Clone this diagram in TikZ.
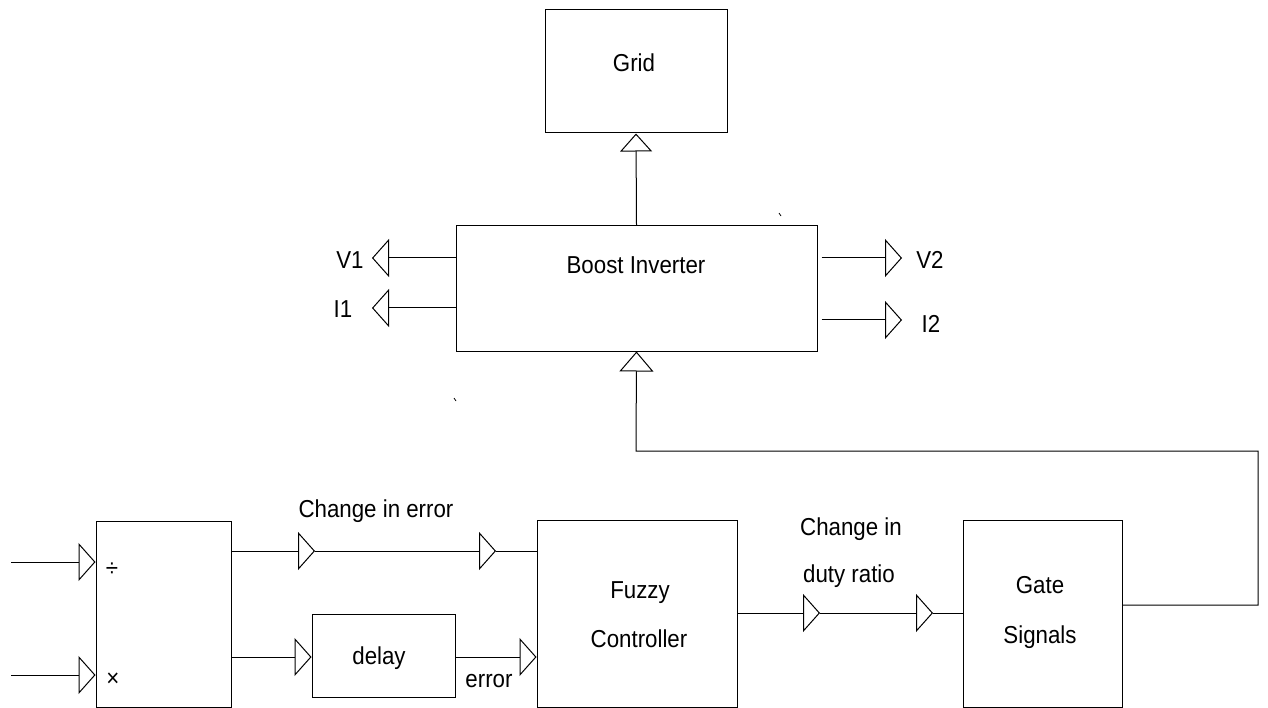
\documentclass[tikz,border=0pt]{standalone}
\usepackage{fontspec}
\setmainfont{Liberation Sans}[FakeStretch=0.91]
\usetikzlibrary{arrows.meta}
\begin{document}
\begin{tikzpicture}[x=1pt,y=-1pt,line width=1pt,
  box/.style={draw,line width=1pt,inner sep=0pt},
  lbl/.style={font=\fontsize{24.5}{28}\selectfont,inner sep=0pt,anchor=base},
  oarrow/.style={-{Triangle[open,length=17pt,width=38pt]}},
  uparrow/.style={-{Triangle[open,length=18pt,width=32pt]}}]
\useasboundingbox (0,0) rectangle (1268,708);
% boxes
\node[box,minimum width=182pt,minimum height=123pt] (grid) at (636,71.5) {};
\node[box,minimum width=361pt,minimum height=125pt] (boost) at (636.5,288.5) {};
\node[box,minimum width=135pt,minimum height=186pt] (div) at (163.5,614) {};
\node[box,minimum width=143pt,minimum height=83pt] (delay) at (383.5,655.5) {};
\node[box,minimum width=200pt,minimum height=187pt] (fuzzy) at (637,613.5) {};
\node[box,minimum width=159pt,minimum height=187pt] (gate) at (1042.5,613.5) {};
% texts (positioned at baseline)
\node[lbl] (tgrid) at (634,72) {Grid};
\node[lbl] (tboost) at (636,274) {Boost Inverter};
\node[lbl] (tdelay) at (379,664) {delay};
\node[lbl] (tfz1) at (640,598) {Fuzzy};
\node[lbl] (tfz2) at (639,647) {Controller};
\node[lbl] (tgt1) at (1040,593) {Gate};
\node[lbl] (tgt2) at (1040,643) {Signals};
\node[lbl] (tv1) at (350,269) {V1};
\node[lbl] (ti1) at (343,317) {I1};
\node[lbl] (tv2) at (930,269) {V2};
\node[lbl] (ti2) at (931,333) {I2};
\node[lbl] (tce) at (376,517) {Change in error};
\node[lbl] (tcd1) at (851,535) {Change in};
\node[lbl] (tcd2) at (849,582) {duty ratio};
\node[lbl] (terr) at (489,687) {error};
\node[lbl] (tdiv) at (112,576) {÷};
\node[lbl] (tmul) at (113,686) {×};
% coordinates
\coordinate (v1tip) at (372,258);
\coordinate (i1tip) at (372,308);
\coordinate (v2tip) at (902,258);
\coordinate (i2tip) at (902,320);
\coordinate (in1) at (11,562);
\coordinate (in2) at (11,675);
\coordinate (ce1) at (315,551);
\coordinate (ce2) at (496,551);
\coordinate (cd1) at (820,613);
\coordinate (cd2) at (933,613);
\coordinate (fb1) at (1258,605);
\coordinate (fb2) at (1258,451);
\coordinate (fb3) at (636,451);
\coordinate (dl) at (0,657);
% connectors
\draw[uparrow] (boost.north) -- (grid.south);
\draw[oarrow] (boost.west |- v1tip) -- (v1tip);
\draw[oarrow] (boost.west |- i1tip) -- (i1tip);
\draw[oarrow,shorten <=4pt] (boost.east |- v2tip) -- (v2tip);
\draw[oarrow,shorten <=4pt] (boost.east |- i2tip) -- (i2tip);
\draw[oarrow] (in1) -- (div.west |- in1);
\draw[oarrow] (in2) -- (div.west |- in2);
\draw[oarrow] (div.east |- ce1) -- (ce1);
\draw[oarrow] (ce1) -- (ce2);
\draw (ce2) -- (fuzzy.west |- ce2);
\draw[oarrow] (div.east |- dl) -- (delay.west |- dl);
\draw[oarrow] (delay.east |- dl) -- (fuzzy.west |- dl);
\draw[oarrow] (fuzzy.east |- cd1) -- (cd1);
\draw[oarrow] (cd1) -- (cd2);
\draw (cd2) -- (gate.west |- cd2);
\draw[{Triangle[open,length=20pt,width=34pt]}-] (boost.south) -- (fb3) -- (fb2) -- (fb1) -- (gate.east |- fb1);
% stray marks
\draw[line width=0.8pt] (779,213) -- (781,216);
\draw[line width=0.8pt] (454,398) -- (456,401);
\end{tikzpicture}
\end{document}
